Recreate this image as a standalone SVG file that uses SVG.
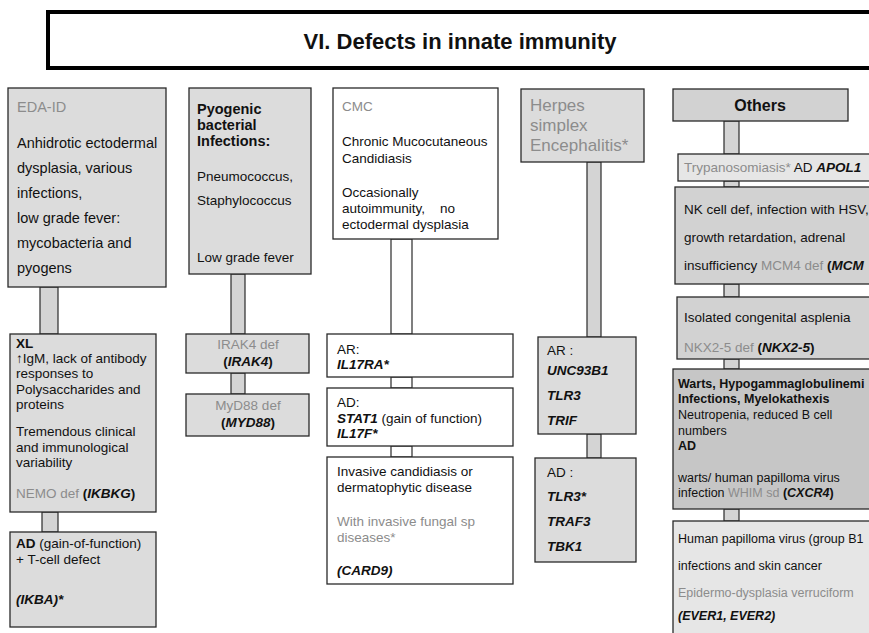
<svg xmlns="http://www.w3.org/2000/svg" width="869" height="633" viewBox="0 0 869 633">
  <style>
    text { font-family: "Liberation Sans", Arial, sans-serif; font-size: 13.5px; fill: #111; }
    .b { font-weight: bold; }
    .bi { font-weight: bold; font-style: italic; }
    .gr { fill: #8c8c8c; }
    .big { font-size: 14.5px; }
    .hb { font-size: 14.5px; font-weight: bold; }
    .hsv { font-size: 17px; }
    .sm { font-size: 12.5px; }
    .box { stroke: #2a2a2a; stroke-width: 1.3; }
    .f1 { fill: #dcdcdc; }
    .f2 { fill: #d2d2d2; }
    .f3 { fill: #c6c6c6; }
    .f4 { fill: #e6e6e6; }
    .wh { fill: #ffffff; }
    .conn { fill: #d4d4d4; stroke: #2a2a2a; stroke-width: 1.2; }
    .connw { fill: #ffffff; stroke: #2a2a2a; stroke-width: 1.2; }
  </style>

  <rect width="869" height="633" fill="#ffffff"/>

  <!-- heading banner -->
  <g id="title">
    <rect x="48" y="12" width="840" height="56" fill="#ffffff" stroke="#000" stroke-width="4"/>
    <text x="460" y="49" text-anchor="middle" class="b" style="font-size:22px">VI. Defects in innate immunity</text>
  </g>

  <!-- vertical links between boxes -->
  <g id="connectors">
    <rect class="conn" x="40" y="287" width="18" height="47"/>
    <rect class="conn" x="42" y="512" width="16" height="20"/>
    <rect class="conn" x="231" y="274" width="14" height="60"/>
    <rect class="conn" x="231" y="373" width="14" height="21"/>
    <rect class="connw" x="391" y="239" width="21" height="95"/>
    <rect class="connw" x="391" y="377" width="21" height="11"/>
    <rect class="connw" x="391" y="446" width="21" height="11"/>
    <rect class="conn" x="587" y="162" width="14" height="175"/>
    <rect class="conn" x="587" y="434" width="14" height="24"/>
    <rect class="conn" x="724" y="121" width="15" height="33"/>
    <rect class="conn" x="724" y="181" width="15" height="6"/>
    <rect class="conn" x="724" y="284" width="15" height="13"/>
    <rect class="conn" x="724" y="359" width="15" height="10"/>
    <rect class="conn" x="724" y="509" width="15" height="12"/>
  </g>

  <!-- EDA-ID column -->
  <g id="eda-id">
    <rect class="box f1" x="8" y="88" width="158" height="199"/>
    <text class="gr big" x="17" y="112">EDA-ID</text>
    <text class="big" x="17" y="148">Anhidrotic ectodermal</text>
    <text class="big" x="17" y="173">dysplasia, various</text>
    <text class="big" x="17" y="198">infections,</text>
    <text class="big" x="17" y="223">low grade fever:</text>
    <text class="big" x="17" y="248">mycobacteria and</text>
    <text class="big" x="17" y="273">pyogens</text>
  </g>
  <g id="nemo">
    <rect class="box f1" x="10" y="334" width="146" height="178"/>
    <text class="b" x="16" y="348">XL</text>
    <text x="16" y="363">↑IgM, lack of antibody</text>
    <text x="16" y="378">responses to</text>
    <text x="16" y="394">Polysaccharides and</text>
    <text x="16" y="409">proteins</text>
    <text x="16" y="436">Tremendous clinical</text>
    <text x="16" y="452">and immunological</text>
    <text x="16" y="467">variability</text>
    <text x="16" y="498"><tspan class="gr">NEMO def </tspan><tspan class="b">(</tspan><tspan class="bi">IKBKG</tspan><tspan class="b">)</tspan></text>
  </g>
  <g id="ikba">
    <rect class="box f1" x="10" y="532" width="146" height="95"/>
    <text x="16" y="548"><tspan class="b">AD</tspan> (gain-of-function)</text>
    <text x="16" y="564">+ T-cell defect</text>
    <text class="bi" x="16" y="604">(IKBA)*</text>
  </g>

  <!-- Pyogenic bacterial infections column -->
  <g id="pyogenic">
    <rect class="box f1" x="189" y="88" width="122" height="186"/>
    <text class="hb" x="197" y="114">Pyogenic</text>
    <text class="hb" x="197" y="130">bacterial</text>
    <text class="hb" x="197" y="146">Infections:</text>
    <text x="197" y="181">Pneumococcus,</text>
    <text x="197" y="205">Staphylococcus</text>
    <text x="197" y="262">Low grade fever</text>
  </g>
  <g id="irak4">
    <rect class="box f1" x="186" y="334" width="123" height="39"/>
    <text class="gr" x="248" y="349" text-anchor="middle">IRAK4 def</text>
    <text x="248" y="366" text-anchor="middle"><tspan class="b">(</tspan><tspan class="bi">IRAK4</tspan><tspan class="b">)</tspan></text>
  </g>
  <g id="myd88">
    <rect class="box f1" x="186" y="394" width="123" height="42"/>
    <text class="gr" x="248" y="410" text-anchor="middle">MyD88 def</text>
    <text x="248" y="427" text-anchor="middle"><tspan class="b">(</tspan><tspan class="bi">MYD88</tspan><tspan class="b">)</tspan></text>
  </g>

  <!-- CMC column -->
  <g id="cmc">
    <rect class="box wh" x="333" y="88" width="165" height="151"/>
    <text class="gr" x="342" y="111">CMC</text>
    <text x="342" y="146">Chronic Mucocutaneous</text>
    <text x="342" y="163">Candidiasis</text>
    <text x="342" y="197">Occasionally</text>
    <text x="342" y="213" style="white-space:pre">autoimmunity,    no</text>
    <text x="342" y="229">ectodermal dysplasia</text>
  </g>
  <g id="il17ra">
    <rect class="box wh" x="327" y="334" width="186" height="43"/>
    <text x="337" y="354">AR:</text>
    <text class="bi" x="337" y="369">IL17RA*</text>
  </g>
  <g id="stat1">
    <rect class="box wh" x="327" y="388" width="186" height="58"/>
    <text x="337" y="407">AD:</text>
    <text x="337" y="423"><tspan class="bi">STAT1</tspan> (gain of function)</text>
    <text class="bi" x="337" y="438">IL17F*</text>
  </g>
  <g id="card9">
    <rect class="box wh" x="327" y="457" width="186" height="127"/>
    <text x="337" y="476">Invasive candidiasis or</text>
    <text x="337" y="492">dermatophytic disease</text>
    <text class="gr" x="337" y="526">With invasive fungal sp</text>
    <text class="gr" x="337" y="542">diseases*</text>
    <text class="bi" x="337" y="575">(CARD9)</text>
  </g>

  <!-- Herpes simplex encephalitis column -->
  <g id="hse">
    <rect class="box f1" x="521" y="89" width="123" height="73"/>
    <text class="gr hsv" x="530" y="111">Herpes</text>
    <text class="gr hsv" x="530" y="131">simplex</text>
    <text class="gr hsv" x="530" y="151">Encephalitis*</text>
  </g>
  <g id="hse-ar">
    <rect class="box f1" x="538" y="337" width="98" height="97"/>
    <text x="547" y="355">AR :</text>
    <text class="bi" x="547" y="375">UNC93B1</text>
    <text class="bi" x="547" y="400">TLR3</text>
    <text class="bi" x="547" y="425">TRIF</text>
  </g>
  <g id="hse-ad">
    <rect class="box f1" x="535" y="458" width="101" height="104"/>
    <text x="547" y="477">AD :</text>
    <text class="bi" x="547" y="501">TLR3*</text>
    <text class="bi" x="547" y="526">TRAF3</text>
    <text class="bi" x="547" y="551">TBK1</text>
  </g>

  <!-- Others column -->
  <g id="others">
    <rect class="box f2" x="673" y="89" width="175" height="32"/>
    <text class="b" x="760" y="111" text-anchor="middle" style="font-size:16px">Others</text>
  </g>
  <g id="apol1">
    <rect class="box f4" x="678" y="154" width="200" height="27"/>
    <text x="684" y="172"><tspan class="gr">Trypanosomiasis*</tspan> AD <tspan class="bi">APOL1</tspan></text>
  </g>
  <g id="mcm4">
    <rect class="box f2" x="675" y="187" width="200" height="97"/>
    <text x="684" y="214">NK cell def, infection with HSV,</text>
    <text x="684" y="242">growth retardation, adrenal</text>
    <text x="684" y="270">insufficiency <tspan class="gr">MCM4 def</tspan> <tspan class="b">(</tspan><tspan class="bi">MCM</tspan></text>
  </g>
  <g id="nkx2-5">
    <rect class="box f2" x="677" y="297" width="200" height="62"/>
    <text x="684" y="322">Isolated congenital asplenia</text>
    <text x="684" y="352"><tspan class="gr">NKX2-5 def </tspan><tspan class="b">(</tspan><tspan class="bi">NKX2-5</tspan><tspan class="b">)</tspan></text>
  </g>
  <g id="cxcr4">
    <rect class="box f3" x="673" y="369" width="200" height="140"/>
    <text class="b sm" x="678" y="388">Warts, Hypogammaglobulinemi</text>
    <text class="b sm" x="678" y="403">Infections, Myelokathexis</text>
    <text class="sm" x="678" y="419">Neutropenia, reduced B cell</text>
    <text class="sm" x="678" y="435">numbers</text>
    <text class="b sm" x="678" y="450">AD</text>
    <text class="sm" x="678" y="482">warts/ human papilloma virus</text>
    <text class="sm" x="678" y="497">infection <tspan class="gr">WHIM sd</tspan> <tspan class="b">(</tspan><tspan class="bi">CXCR4</tspan><tspan class="b">)</tspan></text>
  </g>
  <g id="ever">
    <rect class="box f4" x="673" y="521" width="200" height="120"/>
    <text class="sm" x="678" y="543">Human papilloma virus (group B1</text>
    <text class="sm" x="678" y="570">infections and skin cancer</text>
    <text class="gr sm" x="678" y="597">Epidermo-dysplasia verruciform</text>
    <text class="bi sm" x="678" y="620">(EVER1, EVER2)</text>
  </g>
</svg>
